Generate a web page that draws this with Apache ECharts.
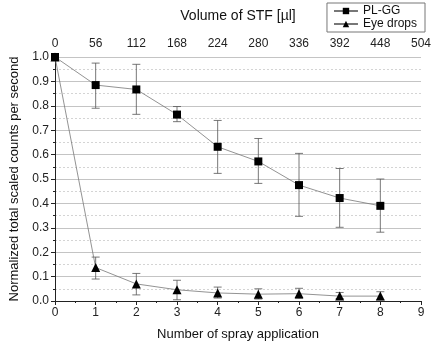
<!DOCTYPE html>
<html><head><meta charset="utf-8">
<script src="https://cdn.jsdelivr.net/npm/echarts@6/dist/echarts.min.js"></script>
<style>html,body{margin:0;padding:0;background:#fff}#c{width:436px;height:348px}</style>
</head><body><div id="c"></div>
<script>
const sprays = [0,1,2,3,4,5,6,7,8];
const volumeTicks = [0,56,112,168,224,280,336,392,448,504];
const plgg = [1.0,0.885,0.867,0.764,0.632,0.572,0.475,0.422,0.390];
const plggHi = [1.0,0.975,0.970,0.797,0.740,0.666,0.605,0.543,0.500];
const plggLo = [1.0,0.790,0.765,0.735,0.523,0.482,0.347,0.302,0.282];
const eye = [1.0,0.137,0.070,0.046,0.033,0.028,0.030,0.020,0.020];
const eyeHi = [1.0,0.180,0.113,0.085,0.057,0.050,0.052,0.035,0.038];
const eyeLo = [1.0,0.090,0.025,0.005,0.012,0.008,0.010,0.010,0.005];

const font = 'Liberation Sans, Arial, sans-serif';
function errData(lo, hi){ return sprays.map((x,i)=>[x, lo[i], hi[i]]).filter((d,i)=>i>0); }
function errRender(params, api){
  const x = api.value(0);
  const lo = api.coord([x, api.value(1)]);
  const hi = api.coord([x, api.value(2)]);
  const w = 4;
  const st = {stroke:'#555', lineWidth:0.8};
  return {type:'group', children:[
    {type:'line', shape:{x1:lo[0],y1:lo[1],x2:hi[0],y2:hi[1]}, style:st},
    {type:'line', shape:{x1:lo[0]-w,y1:lo[1],x2:lo[0]+w,y2:lo[1]}, style:st},
    {type:'line', shape:{x1:hi[0]-w,y1:hi[1],x2:hi[0]+w,y2:hi[1]}, style:st}
  ]};
}
const chart = echarts.init(document.getElementById('c'));
chart.setOption({
  animation:false,
  grid:{left:49,right:15,top:57,bottom:47},
  legend:{
    right:11, top:3, orient:'vertical', itemGap:1, itemWidth:24, itemHeight:8,
    padding:[2,8,2,6], borderColor:'#777', borderWidth:1,
    textStyle:{fontFamily:font,fontSize:12,color:'#111'},
    data:['PL-GG','Eye drops']
  },
  xAxis:[
    {type:'value', min:0, max:9, interval:1, position:'bottom',
     name:'Number of spray application', nameLocation:'middle', nameGap:27,
     nameTextStyle:{fontFamily:font,fontSize:13,color:'#111'},
     axisLine:{lineStyle:{color:'#222'}}, axisTick:{inside:false,length:4,lineStyle:{color:'#222'}},
     minorTick:{show:true,splitNumber:2,length:2,lineStyle:{color:'#222'}},
     axisLabel:{fontFamily:font,fontSize:12,color:'#222',margin:6},
     splitLine:{show:false}},
    {type:'value', min:0, max:504, interval:56, position:'top',
     name:'Volume of STF [µl]', nameLocation:'middle', nameGap:34,
     nameTextStyle:{fontFamily:font,fontSize:14,color:'#111'},
     axisLine:{show:true,lineStyle:{color:'#222'}}, axisTick:{inside:true,length:4,lineStyle:{color:'#222'}},
     axisLabel:{fontFamily:font,fontSize:12,color:'#222',margin:7},
     splitLine:{show:false}}
  ],
  yAxis:[
    {type:'value', min:0, max:1, interval:0.1,
     name:'Normalized total scaled counts per second', nameLocation:'middle', nameGap:34,
     nameTextStyle:{fontFamily:font,fontSize:13,color:'#111'},
     axisLine:{show:true,lineStyle:{color:'#222'}}, axisTick:{inside:false,length:4,lineStyle:{color:'#222'}},
     minorTick:{show:true,splitNumber:2,length:2,lineStyle:{color:'#222'}},
     axisLabel:{fontFamily:font,fontSize:12,color:'#222',margin:6,formatter:v=>v.toFixed(1)},
     splitLine:{show:true,lineStyle:{color:'#c4c4c4',width:1}},
     minorSplitLine:{show:true,lineStyle:{color:'#d4d4d4',type:[2,2]}}},
    {type:'value', min:0, max:1, position:'right', axisLine:{show:true,lineStyle:{color:'#222'}},
     axisTick:{show:false}, axisLabel:{show:false}, splitLine:{show:false}}
  ],
  series:[
    {name:'PL-GG', type:'line', data:sprays.map((x,i)=>[x,plgg[i]]), symbol:'rect', symbolSize:8,
     itemStyle:{color:'#000'}, lineStyle:{color:'#777',width:0.8}, z:3},
    {name:'Eye drops', type:'line', data:sprays.map((x,i)=>[x,eye[i]]), symbol:'triangle', symbolSize:9,
     itemStyle:{color:'#000'}, lineStyle:{color:'#777',width:0.8}, z:3},
    {type:'custom', data:errData(plggLo,plggHi), renderItem:errRender, z:2, silent:true},
    {type:'custom', data:errData(eyeLo,eyeHi), renderItem:errRender, z:2, silent:true}
  ]
});
</script></body></html>
